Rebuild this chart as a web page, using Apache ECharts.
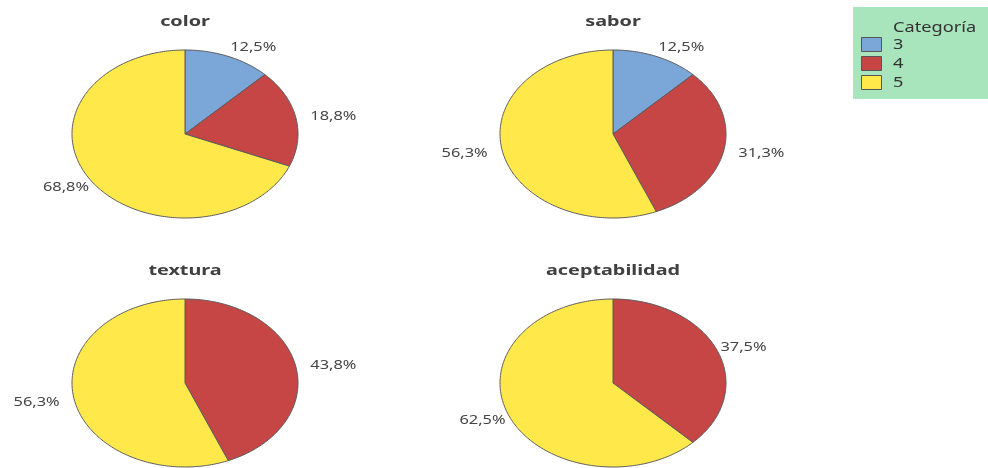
<!DOCTYPE html>
<html>
<head>
<meta charset="utf-8">
<script src="https://cdn.jsdelivr.net/npm/echarts@6/dist/echarts.min.js"></script>
<style>
  html, body { margin: 0; padding: 0; background: #ffffff; }
  #main { width: 988px; height: 468px; }
</style>
</head>
<body>
<div id="main"></div>
<script>
// Variables evaluated (one pie per variable)
const variables = ['color', 'sabor', 'textura', 'aceptabilidad'];
// Rating categories
const categories = ['3', '4', '5'];
// Number of panelists giving each rating, per variable (n = 16)
const counts3 = [2, 2, 0, 0];
const counts4 = [3, 5, 7, 6];
const counts5 = [11, 9, 9, 10];
const legendTitle = 'Categoría';

const countsByCategory = [counts3, counts4, counts5];
const categoryColors = ['#7ba6d8', '#c64545', '#ffe94a'];

// Panel layout: pie centres and elliptical radii (the whole figure is drawn wide)
const panelCenters = [[185, 134], [613, 134], [185, 383], [613, 383]];
const RX = 113, RY = 84;
const FONT = '"Noto Sans", "Open Sans", sans-serif';
const TEXT_STRETCH = 1.26;

function fmtPct(v) {
  return v.toFixed(1).replace('.', ',') + '%';
}

// Draws one elliptical pie slice plus its outside percentage label
function renderSlice(params, api) {
  const cat = params.seriesIndex;
  const p = params.dataIndex;
  const value = api.value(0);
  if (!value) return { type: 'group', children: [] };

  let total = 0, before = 0;
  countsByCategory.forEach(function (arr, k) {
    total += arr[p];
    if (k < cat) before += arr[p];
  });
  const a0 = before / total * 2 * Math.PI;
  const a1 = (before + value) / total * 2 * Math.PI;
  const cx = panelCenters[p][0], cy = panelCenters[p][1];

  const pts = [[cx, cy]];
  const steps = Math.max(2, Math.ceil((a1 - a0) / (Math.PI / 180)));
  for (let i = 0; i <= steps; i++) {
    const a = a0 + (a1 - a0) * i / steps;
    pts.push([cx + RX * Math.sin(a), cy - RY * Math.cos(a)]);
  }

  // Label sits just outside the rim at the slice's mid angle; labels near the
  // horizontal get pushed further out so they clear the widest part of the pie.
  const am = (a0 + a1) / 2;
  const s = Math.sin(am), c = Math.cos(am);
  const side = s >= 0 ? 1 : -1;
  const dx = 2 + 15 * Math.exp(-Math.pow(Math.abs(c) / 0.3, 4));
  const dy = -11 * c + 1;
  const lx = cx + RX * s + side * dx;
  const ly = cy - RY * c + dy;

  return {
    type: 'group',
    children: [
      {
        type: 'polygon',
        shape: { points: pts },
        style: { fill: api.visual('color'), stroke: '#5c5c5c', lineWidth: 1 }
      },
      {
        type: 'text',
        x: lx,
        y: ly,
        scaleX: TEXT_STRETCH,
        style: {
          text: fmtPct(value / total * 100),
          align: side > 0 ? 'left' : 'right',
          verticalAlign: 'middle',
          fill: '#454545',
          fontSize: 13,
          fontFamily: FONT
        }
      }
    ]
  };
}

// Panel titles
const titleElements = variables.map(function (v, i) {
  return {
    type: 'text',
    x: panelCenters[i][0],
    y: panelCenters[i][1] - 112,
    scaleX: 1.32,
    style: {
      text: v,
      align: 'center',
      verticalAlign: 'middle',
      fontSize: 15,
      fontWeight: 'bold',
      fill: '#404040',
      fontFamily: FONT
    }
  };
});

// Legend box with swatches
const legendElements = [
  {
    type: 'rect',
    shape: { x: 853, y: 7, width: 140, height: 92 },
    style: { fill: '#a8e4bc' }
  },
  {
    type: 'text',
    x: 893,
    y: 28,
    scaleX: 1.3,
    style: { text: legendTitle, fontSize: 14, fill: '#333333', fontFamily: FONT, verticalAlign: 'middle' }
  }
];
categories.forEach(function (name, k) {
  legendElements.push({
    type: 'rect',
    shape: { x: 861.5, y: 37.5 + 19 * k, width: 20, height: 14 },
    style: { fill: categoryColors[k], stroke: '#555555', lineWidth: 1 }
  });
  legendElements.push({
    type: 'text',
    x: 893,
    y: 45 + 19 * k,
    scaleX: 1.3,
    style: { text: name, fontSize: 14, fill: '#333333', fontFamily: FONT, verticalAlign: 'middle' }
  });
});

const chart = echarts.init(document.getElementById('main'), null, { renderer: 'canvas' });

const option = {
  backgroundColor: '#ffffff',
  animation: false,
  graphic: titleElements.concat(legendElements),
  series: categories.map(function (name, k) {
    return {
      type: 'custom',
      name: name,
      coordinateSystem: 'none',
      itemStyle: { color: categoryColors[k] },
      renderItem: renderSlice,
      data: countsByCategory[k].map(function (v) { return [v]; })
    };
  })
};

chart.setOption(option);
</script>
</body>
</html>
